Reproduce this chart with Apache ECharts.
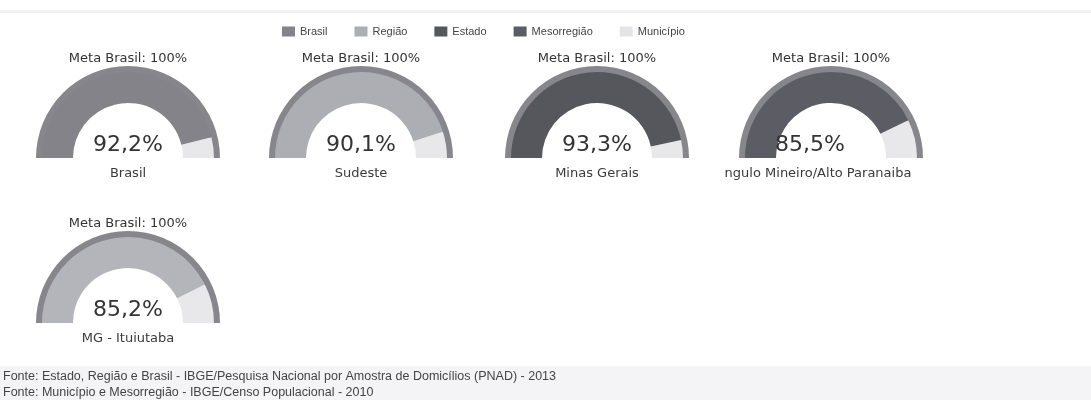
<!DOCTYPE html>
<html>
<head>
<meta charset="utf-8">
<script src="https://cdn.jsdelivr.net/npm/echarts@6/dist/echarts.min.js"></script>
<style>html,body{margin:0;padding:0;background:#fff;}#c{width:1091px;height:400px;}</style>
</head>
<body>
<div id="c"></div>
<script>
// ---- data ----
const legendLevels = ['Brasil', 'Região', 'Estado', 'Mesorregião', 'Município'];
const entityNames = ['Brasil', 'Sudeste', 'Minas Gerais', 'ngulo Mineiro/Alto Paranaiba', 'MG - Ituiutaba'];
const entityLevels = ['Brasil', 'Região', 'Estado', 'Mesorregião', 'Município'];
const entityValues = [92.2, 90.1, 93.3, 85.5, 85.2];
const goalValue = 100;
const goalLabel = 'Meta Brasil: 100%';
const sourceLines = [
  'Fonte: Estado, Região e Brasil - IBGE/Pesquisa Nacional por Amostra de Domicílios (PNAD) - 2013',
  'Fonte: Município e Mesorregião - IBGE/Censo Populacional - 2010'
];

// ---- styles / layout ----
const levelColors = {
  'Brasil': '#838389',
  'Região': '#adaeb3',
  'Estado': '#56575d',
  'Mesorregião': '#5c5d64',
  'Município': '#e4e4e7'
};
const fillColors = {
  'Brasil': '#838389',
  'Região': '#adaeb3',
  'Estado': '#56575d',
  'Mesorregião': '#5c5d64',
  'Município': '#b4b5ba'
};
const restColor = '#e8e8ea';
const ringColor = '#86868c';
const centers = [[128, 158], [361, 158], [597, 158], [831, 158], [128, 323]];
const titleDx = [0, 0, 0, -13, 0];
const detailDx = [0, 0, 0, -21, 0];
const R_OUT = 92, RING_W = 6, BAND_W = 31;
const FONT = 'DejaVu Sans';

const series = [];
const graphics = [];

entityNames.forEach((name, i) => {
  const [cx, cy] = centers[i];
  const v = entityValues[i];
  const common = {
    type: 'gauge', center: [cx, cy], startAngle: 180, endAngle: 0,
    min: 0, max: goalValue, splitNumber: 1,
    pointer: { show: false }, axisTick: { show: false }, splitLine: { show: false },
    axisLabel: { show: false }, anchor: { show: false }, silent: true, animation: false
  };
  series.push(Object.assign({}, common, {
    radius: R_OUT,
    axisLine: { lineStyle: { width: RING_W + 1, color: [[1, ringColor]] } },
    title: { show: false }, detail: { show: false },
    data: [{ value: goalValue, name: '' }]
  }));
  series.push(Object.assign({}, common, {
    radius: R_OUT - RING_W,
    axisLine: { lineStyle: { width: BAND_W, color: [[v / goalValue, fillColors[entityLevels[i]]], [1, restColor]] } },
    title: { show: true, offsetCenter: [titleDx[i], 16], fontSize: 13, color: '#3a3a3a', fontFamily: FONT },
    detail: {
      show: true, offsetCenter: [detailDx[i], -13], fontSize: 22, fontWeight: 'normal',
      color: '#333', fontFamily: FONT,
      formatter: (val) => val.toFixed(1).replace('.', ',') + '%'
    },
    data: [{ value: v, name: name }]
  }));
  graphics.push({
    type: 'text', x: cx, y: cy - 99,
    style: { text: goalLabel, font: '13px "DejaVu Sans"', fill: '#333', textAlign: 'center', textVerticalAlign: 'middle' }
  });
});

// legend carrier (hidden pie)
series.push({
  type: 'pie', radius: [0, 0], center: [-50, -50], label: { show: false }, silent: true,
  data: legendLevels.map(n => ({ name: n, value: 1, itemStyle: { color: levelColors[n] } }))
});

// footer background & texts
graphics.unshift({ type: 'rect', shape: { x: 0, y: 366, width: 1091, height: 34 }, style: { fill: '#f4f4f6' }, silent: true });
graphics.unshift({ type: 'rect', shape: { x: 0, y: 10, width: 1091, height: 3 }, style: { fill: '#f3f3f5' }, silent: true });
sourceLines.forEach((t, i) => {
  graphics.push({
    type: 'text', x: 3, y: 377 + i * 16,
    style: { text: t, font: '12.5px "Liberation Sans"', fill: '#444', textVerticalAlign: 'middle' }
  });
});

const chart = echarts.init(document.getElementById('c'), null, { renderer: 'canvas' });
chart.setOption({
  animation: false,
  backgroundColor: '#fff',
  legend: {
    data: legendLevels, left: 277, top: 21, icon: 'rect', itemWidth: 13, itemHeight: 10, itemGap: 27,
    selectedMode: false,
    textStyle: { fontSize: 11, color: '#444', fontFamily: 'Liberation Sans' }
  },
  graphic: graphics,
  series: series
});
</script>
</body>
</html>
